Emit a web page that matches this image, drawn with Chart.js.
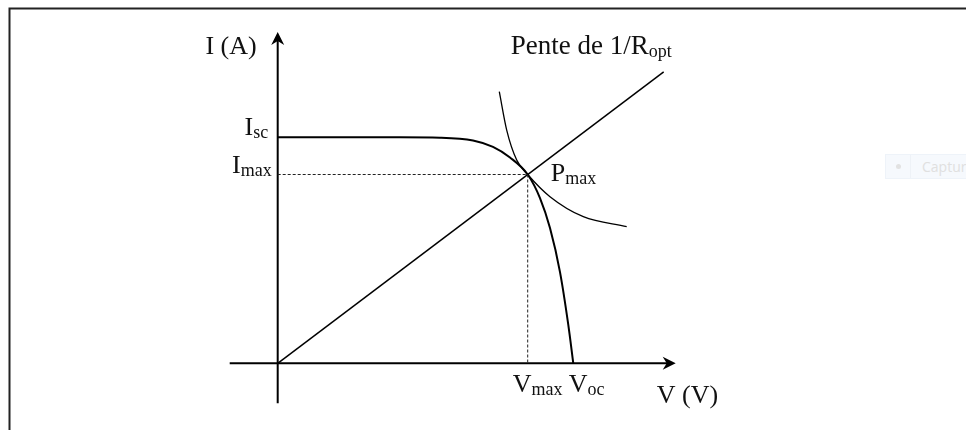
<!DOCTYPE html>
<html>
<head>
<meta charset="utf-8">
<script src="https://cdn.jsdelivr.net/npm/chart.js@4.4.1/dist/chart.umd.min.js"></script>
<style>
  body { margin: 0; background: #fff; }
  #wrap { position: relative; width: 966px; height: 430px; }
  #capture {
    position: absolute; left: 885px; top: 154px; width: 90px; height: 25px;
    background: #f6f9fd; border: 1px solid #eef3f9; box-sizing: border-box;
    font: 14px "Open Sans", sans-serif; color: #e0e0e0;
  }
  #capture .dot {
    position: absolute; left: 10px; top: 9px; width: 5px; height: 5px;
    border-radius: 50%; background: #e2e2e2;
  }
  #capture .sep { position: absolute; left: 24px; top: 0; width: 1px; height: 23px; background: #eef2f7; }
  #capture .txt { position: absolute; left: 36px; top: 2px; }
</style>
</head>
<body>
<div id="wrap">
  <canvas id="ivChart" width="966" height="430"></canvas>
  <div id="capture"><span class="dot"></span><span class="sep"></span><span class="txt">Capture</span></div>
</div>
<script>
// I-V characteristic of the cell
const ivVoltage = [0, 12.2, 16.23, 19.53, 21.53, 23.23, 25.0, 26.23, 27.23, 28.23, 29.06, 29.56];
const ivCurrent = [5.65, 5.65, 5.64, 5.57, 5.41, 5.145, 4.72, 4.13, 3.38, 2.28, 0.96, 0];

// constant power curve through the maximum power point
const powerVoltage = [22.16, 22.9, 23.9, 25.0, 27.23, 30.56, 34.9];
const powerCurrent = [6.79, 5.83, 5.08, 4.72, 4.165, 3.665, 3.415];

// load line, slope 1/Ropt
const loadVoltage = [0, 38.6];
const loadCurrent = [0, 7.288];

// characteristic points
const Isc = 5.65;
const Imax = 4.72;
const Vmax = 25.0;
const Voc = 29.56;

// axis extents
const axisV = [-4.8, 39.8];
const axisI = [-1.0, 8.28];

// labels: [main text, subscript]
const labelIsc = ['I', 'sc'];
const labelImax = ['I', 'max'];
const labelVmax = ['V', 'max'];
const labelVoc = ['V', 'oc'];
const labelPmax = ['P', 'max'];
const labelSlope = ['Pente de 1/R', 'opt'];
const labelIAxis = 'I (A)';
const labelVAxis = 'V (V)';

const toPoints = (xs, ys) => xs.map((x, i) => ({ x: x, y: ys[i] }));

const MAIN_FONT = '26px "Liberation Serif", "Times New Roman", serif';
const SUB_FONT = '18px "Liberation Serif", "Times New Roman", serif';
const INK = '#111';

function drawLabel(ctx, main, sub, x, y, align, font) {
    const mainFont = font || MAIN_FONT;
    ctx.font = mainFont;
    const w1 = ctx.measureText(main).width;
    ctx.font = SUB_FONT;
    const w2 = sub ? ctx.measureText(sub).width : 0;
    const left = align === 'right' ? x - w1 - w2 : x;
    ctx.textAlign = 'left';
    ctx.textBaseline = 'alphabetic';
    ctx.fillStyle = INK;
    ctx.font = mainFont;
    ctx.fillText(main, left, y);
    if (sub) {
        ctx.font = SUB_FONT;
        ctx.fillText(sub, left + w1, y + 3);
    }
}

function arrowHead(ctx, tx, ty, dir) {
    // dir: 'right' or 'up'
    const len = 13, half = 6.5, notch = 9;
    ctx.save();
    ctx.translate(tx, ty);
    if (dir === 'up') ctx.rotate(-Math.PI / 2);
    ctx.beginPath();
    ctx.moveTo(0, 0);
    ctx.lineTo(-len, -half);
    ctx.lineTo(-notch, 0);
    ctx.lineTo(-len, half);
    ctx.closePath();
    ctx.fillStyle = '#000';
    ctx.fill();
    ctx.restore();
}

const decorations = {
    id: 'decorations',
    beforeDraw(chart) {
        const ctx = chart.ctx;
        ctx.save();
        ctx.strokeStyle = '#222';
        ctx.lineWidth = 2;
        ctx.beginPath();
        ctx.moveTo(966, 8.5);
        ctx.lineTo(9.5, 8.5);
        ctx.lineTo(9.5, 430);
        ctx.stroke();
        ctx.restore();
    },
    afterDatasetsDraw(chart) {
        const ctx = chart.ctx;
        const sx = chart.scales.x, sy = chart.scales.y;
        const x0 = sx.getPixelForValue(0), y0 = sy.getPixelForValue(0);
        ctx.save();
        arrowHead(ctx, sx.getPixelForValue(axisV[1]), y0, 'right');
        arrowHead(ctx, x0, sy.getPixelForValue(axisI[1]), 'up');

        ctx.font = MAIN_FONT;
        ctx.fillStyle = INK;
        ctx.textAlign = 'right';
        ctx.fillText(labelIAxis, x0 - 21, sy.getPixelForValue(axisI[1]) + 22);
        ctx.textAlign = 'left';
        ctx.fillText(labelVAxis, sx.getPixelForValue(axisV[1]) - 19, y0 + 40);

        drawLabel(ctx, labelIsc[0], labelIsc[1], x0 - 9.5, sy.getPixelForValue(Isc) - 2, 'right');
        drawLabel(ctx, labelImax[0], labelImax[1], x0 - 6, sy.getPixelForValue(Imax) - 1.5, 'right');
        drawLabel(ctx, labelPmax[0], labelPmax[1], sx.getPixelForValue(Vmax) + 23, sy.getPixelForValue(Imax) + 6.5, 'left');
        drawLabel(ctx, labelVmax[0], labelVmax[1], sx.getPixelForValue(Vmax) - 15, y0 + 29, 'left');
        drawLabel(ctx, labelVoc[0], labelVoc[1], sx.getPixelForValue(Voc) - 4.5, y0 + 29, 'left');
        drawLabel(ctx, labelSlope[0], labelSlope[1], sx.getPixelForValue(loadVoltage[1]) - 153, sy.getPixelForValue(loadCurrent[1]) - 17.5, 'left',
            '27px "Liberation Serif", "Times New Roman", serif');
        ctx.restore();
    }
};

const lineSet = (data, width, extra) => Object.assign({
    data: data,
    showLine: true,
    borderColor: '#000',
    borderWidth: width,
    pointRadius: 0,
    fill: false
}, extra || {});

new Chart(document.getElementById('ivChart'), {
    type: 'scatter',
    data: {
        datasets: [
            // dotted guides to Imax and Vmax
            lineSet([{ x: 0, y: Imax }, { x: Vmax, y: Imax }], 1, { borderColor: '#222', borderDash: [3, 2] }),
            lineSet([{ x: Vmax, y: Imax }, { x: Vmax, y: 0 }], 1, { borderColor: '#222', borderDash: [3, 2] }),
            lineSet(toPoints(loadVoltage, loadCurrent), 1.5),
            lineSet(toPoints(powerVoltage, powerCurrent), 1.3, { cubicInterpolationMode: 'monotone' }),
            lineSet(toPoints(ivVoltage, ivCurrent), 2, { cubicInterpolationMode: 'monotone' }),
            // axes
            lineSet([{ x: axisV[0], y: 0 }, { x: axisV[1] - 0.6, y: 0 }], 2),
            lineSet([{ x: 0, y: axisI[0] }, { x: 0, y: axisI[1] - 0.15 }], 2)
        ]
    },
    options: {
        responsive: false,
        animation: false,
        layout: { padding: 0 },
        plugins: { legend: { display: false }, tooltip: { enabled: false } },
        scales: {
            x: { type: 'linear', display: false, min: -27.77, max: 68.83 },
            y: { type: 'linear', display: false, min: -1.6675, max: 9.0825 }
        }
    },
    plugins: [decorations]
});
</script>
</body>
</html>
